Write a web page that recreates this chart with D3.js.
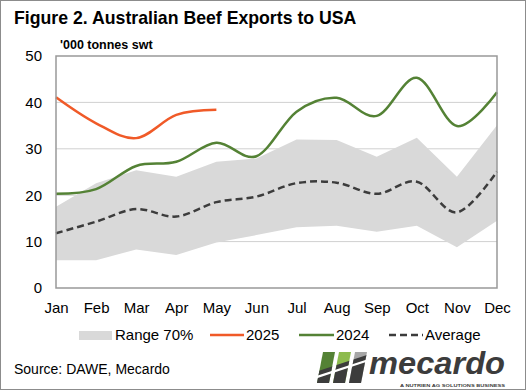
<!DOCTYPE html>
<html>
<head>
<meta charset="utf-8">
<script src="https://cdn.jsdelivr.net/npm/d3@7"></script>
<style>
  body { margin: 0; background: #fff; }
  svg { display: block; font-family: "Liberation Sans", Arial, sans-serif; }
</style>
</head>
<body>
<svg id="chart"></svg>
<script>
// data
const months = ["Jan","Feb","Mar","Apr","May","Jun","Jul","Aug","Sep","Oct","Nov","Dec"];
const rangeLow  = [6.0, 6.0, 8.3, 7.1, 9.8, 11.4, 13.1, 13.4, 12.1, 13.4, 8.8, 14.5];
const rangeHigh = [17.5, 22.6, 25.4, 24.0, 27.2, 27.9, 32.0, 31.9, 28.3, 32.4, 24.0, 35.1];
const average   = [11.8, 14.3, 17.0, 15.4, 18.5, 19.7, 22.6, 22.7, 20.3, 22.9, 16.3, 25.1];
const y2024     = [20.3, 21.3, 26.3, 27.2, 31.3, 28.4, 38.0, 41.0, 37.1, 45.3, 34.9, 42.2];
const y2025     = [41.1, 35.5, 32.3, 37.3, 38.4];
const yTicks    = [0, 10, 20, 30, 40, 50];

const W = 527, H = 390;
const svg = d3.select("#chart").attr("width", W).attr("height", H);

// outer frame
svg.append("rect").attr("x", 0.5).attr("y", 0.5).attr("width", W - 2).attr("height", H - 1)
  .attr("fill", "none").attr("stroke", "#8c8c8c").attr("stroke-width", 1);

const pLeft = 56, pRight = 497, pTop = 56, pBottom = 288;

const x = d3.scalePoint().domain(months).range([pLeft, pRight]);
const y = d3.scaleLinear().domain([0, 50]).range([pBottom, pTop]);

// gridlines
svg.append("g").selectAll("line")
  .data(yTicks.filter(d => d > 0 && d < 50))
  .enter().append("line")
  .attr("x1", pLeft).attr("x2", pRight)
  .attr("y1", d => y(d)).attr("y2", d => y(d))
  .attr("stroke", "#d0d0d0").attr("stroke-width", 1);

// range band
const area = d3.area()
  .x((d, i) => x(months[i]))
  .y0((d, i) => y(rangeLow[i]))
  .y1((d, i) => y(rangeHigh[i]));
svg.append("path").datum(rangeLow).attr("d", area).attr("fill", "#d9d9d9");

const line = d3.line()
  .x((d, i) => x(months[i]))
  .y(d => y(d))
  .curve(d3.curveCardinal.tension(0));

svg.append("path").datum(average).attr("d", line)
  .attr("fill", "none").attr("stroke", "#3c3c3c").attr("stroke-width", 2.5)
  .attr("stroke-dasharray", "7,4");

svg.append("path").datum(y2024).attr("d", line)
  .attr("fill", "none").attr("stroke", "#548235").attr("stroke-width", 2.5);

svg.append("path").datum(y2025).attr("d", line)
  .attr("fill", "none").attr("stroke", "#f05a28").attr("stroke-width", 2.5);

// plot border
svg.append("rect").attr("x", pLeft).attr("y", pTop)
  .attr("width", pRight - pLeft).attr("height", pBottom - pTop)
  .attr("fill", "none").attr("stroke", "#999").attr("stroke-width", 1.5);

// axes
const yAxis = d3.axisLeft(y).tickValues(yTicks).tickSize(0).tickPadding(14);
svg.append("g").attr("transform", `translate(${pLeft},0)`).call(yAxis)
  .call(g => g.select(".domain").remove())
  .selectAll("text").attr("font-size", 15).attr("fill", "#000")
  .attr("font-family", "Liberation Sans, Arial, sans-serif");

const xAxis = d3.axisBottom(x).tickSize(0).tickPadding(14);
svg.append("g").attr("transform", `translate(0,${pBottom})`).call(xAxis)
  .call(g => g.select(".domain").remove())
  .selectAll("text").attr("font-size", 15).attr("fill", "#000")
  .attr("font-family", "Liberation Sans, Arial, sans-serif");

// titles
svg.append("text").attr("x", 14).attr("y", 24)
  .attr("font-size", 17.7).attr("font-weight", "bold").attr("fill", "#000")
  .text("Figure 2. Australian Beef Exports to USA");

svg.append("text").attr("x", 60).attr("y", 49)
  .attr("font-size", 12.5).attr("font-weight", "bold").attr("fill", "#000")
  .text("'000 tonnes swt");

// legend
const lg = svg.append("g").attr("font-size", 15).attr("fill", "#000");
lg.append("rect").attr("x", 79).attr("y", 331).attr("width", 33).attr("height", 9).attr("fill", "#d9d9d9");
lg.append("text").attr("x", 115).attr("y", 340).text("Range 70%");
lg.append("line").attr("x1", 210).attr("x2", 244).attr("y1", 335).attr("y2", 335)
  .attr("stroke", "#f05a28").attr("stroke-width", 2.5);
lg.append("text").attr("x", 246).attr("y", 340).text("2025");
lg.append("line").attr("x1", 299).attr("x2", 334).attr("y1", 335).attr("y2", 335)
  .attr("stroke", "#548235").attr("stroke-width", 2.5);
lg.append("text").attr("x", 336).attr("y", 340).text("2024");
lg.append("line").attr("x1", 389).attr("x2", 423).attr("y1", 335).attr("y2", 335)
  .attr("stroke", "#3c3c3c").attr("stroke-width", 2.5).attr("stroke-dasharray", "7,4");
lg.append("text").attr("x", 425).attr("y", 340).text("Average");

// source
svg.append("text").attr("x", 14).attr("y", 374)
  .attr("font-size", 14).attr("fill", "#000")
  .text("Source: DAWE, Mecardo");

// logo
const logo = svg.append("g");
const barCols = ["#548235", "#8dbb4e", "#a6a6a6"];
const bar = i => {
  const bx = 317 + i * 16, s = 6;
  return `M${bx + s},352 L${bx + s + 12},352 L${bx + 12},383 L${bx},383 Z`;
};
svg.append("defs").append("clipPath").attr("id", "lowClip")
  .append("path").attr("d", "M300,377 L370,354 L370,390 L300,390 Z");
barCols.forEach((c, i) => {
  logo.append("path").attr("d", bar(i)).attr("fill", c);
  logo.append("path").attr("d", bar(i)).attr("fill", "#3c3c3c").attr("clip-path", "url(#lowClip)");
});
logo.append("line").attr("x1", 312).attr("y1", 378.6).attr("x2", 368).attr("y2", 360.2)
  .attr("stroke", "#fff").attr("stroke-width", 2.2);
logo.append("text").attr("x", 369).attr("y", 373.5)
  .attr("font-size", 32).attr("font-weight", "bold").attr("font-style", "italic")
  .attr("fill", "#3c3c3c").attr("textLength", 136).attr("lengthAdjust", "spacingAndGlyphs")
  .text("mecardo");
logo.append("text").attr("x", 400).attr("y", 386.5)
  .attr("font-size", 4.4).attr("font-weight", "bold").attr("fill", "#3c3c3c")
  .attr("textLength", 105).attr("lengthAdjust", "spacingAndGlyphs")
  .text("A NUTRIEN AG SOLUTIONS BUSINESS");
</script>
</body>
</html>
